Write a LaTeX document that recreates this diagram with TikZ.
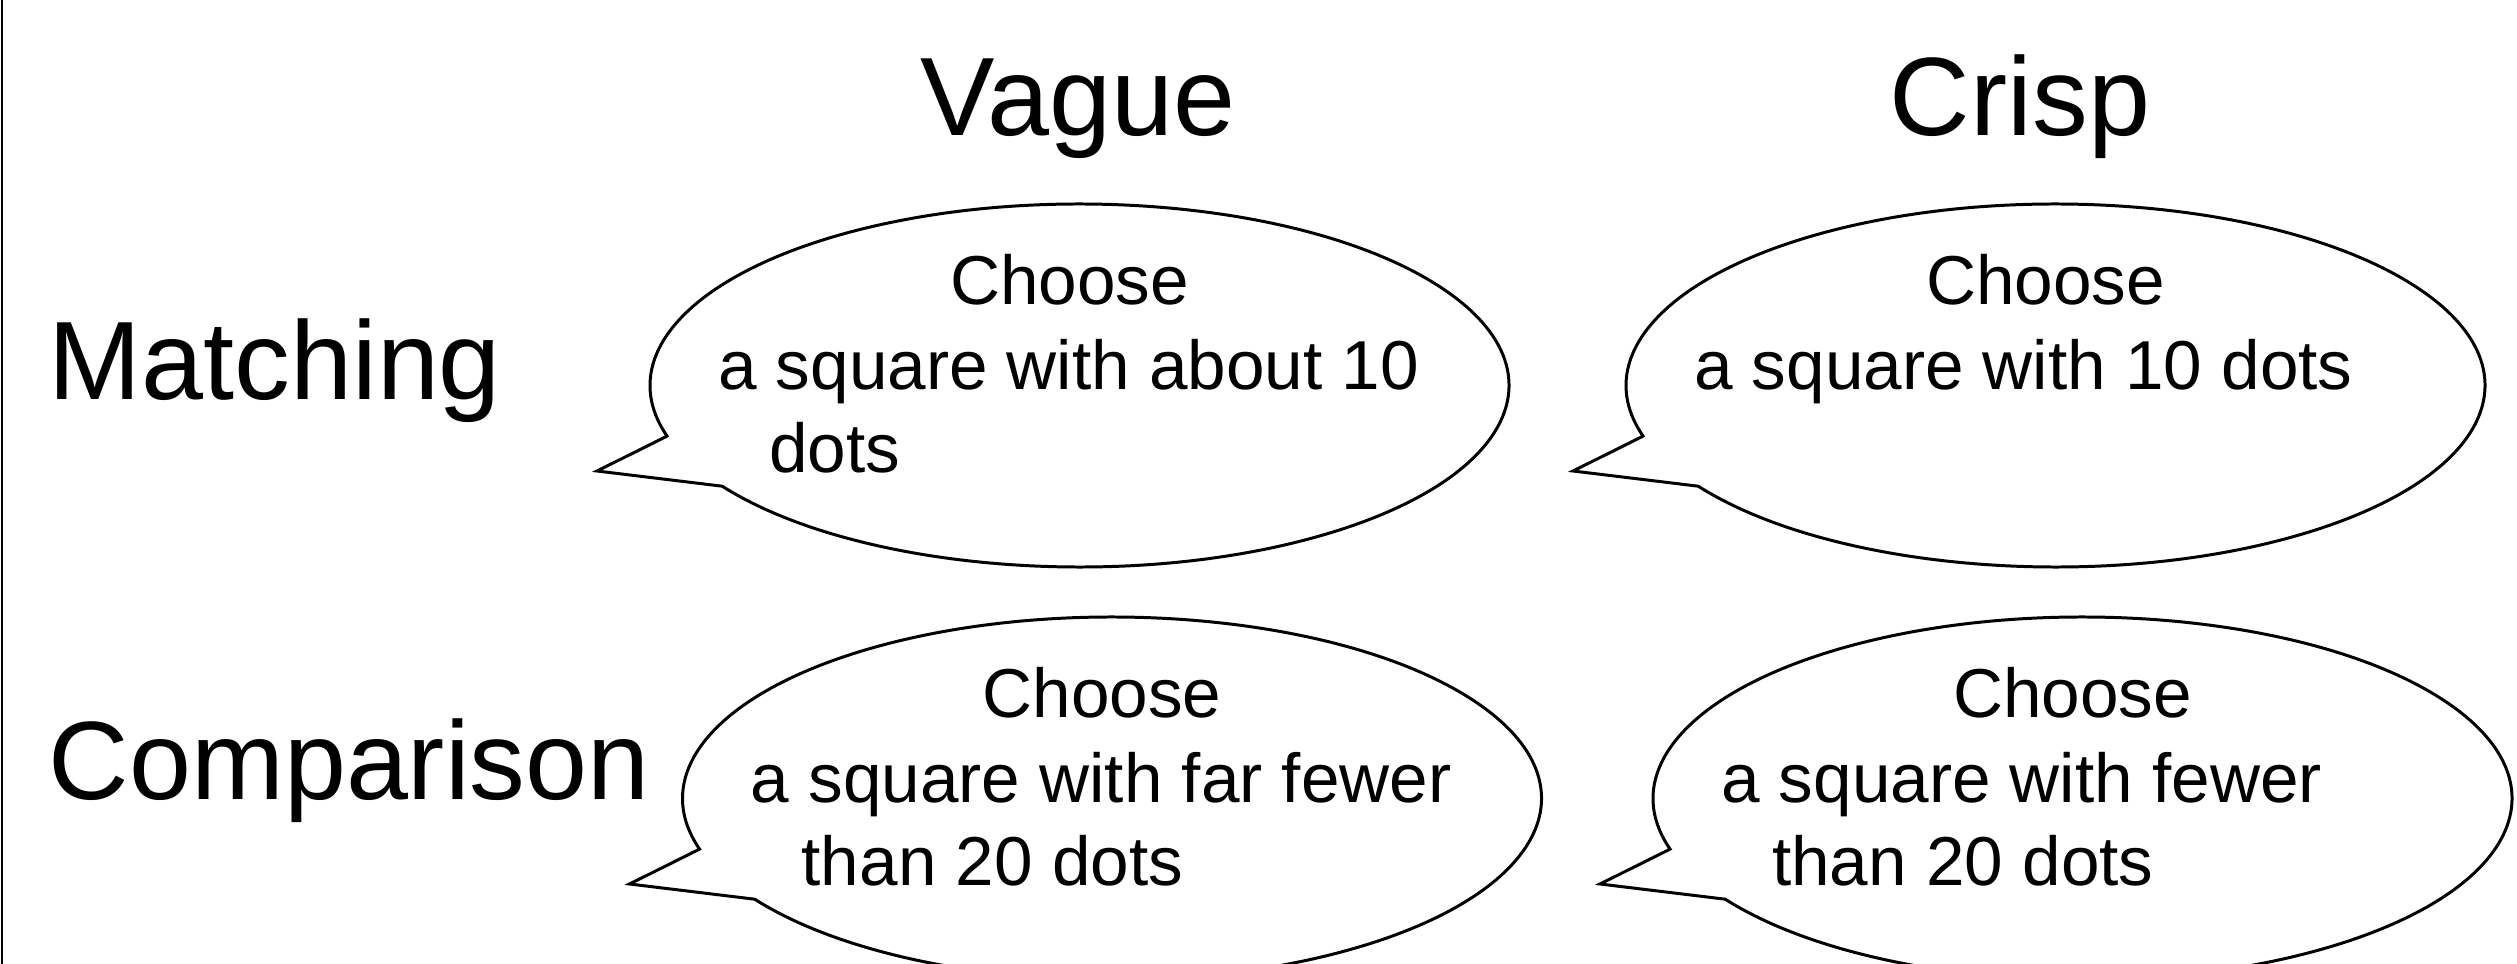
\documentclass[tikz,border=0pt]{standalone}
\usepackage{fontspec}
\setmainfont{Liberation Sans}
\begin{document}
\begin{tikzpicture}[x=0.01cm,y=-0.01cm,
  bubbleline/.style={draw=black, line width=0.85pt, line join=miter},
  heading/.style={font=\fontsize{31.7}{38}\selectfont, inner sep=0pt},
  says/.style={font=\fontsize{19.7}{23.8}\selectfont, inner sep=0pt},
  % speech bubble: ellipse outline opened on the lower left for a pointed tail
  bubble/.pic={
    \draw[bubbleline] (-357.3,100.7)
      arc[start angle=146.3, end angle=-196.2, x radius=429.5, y radius=181.5]
      -- (-482.5,85.5) -- cycle;
  }]
\useasboundingbox (0,0) rectangle (2517,964);
\clip (0,0) rectangle (2517,964);

% frame edge on the left
\draw[line width=0.6pt] (2,0) -- (2,964);

% column and row headings
\node[heading, anchor=base] (vague) at (1078,136) {Vague};
\node[heading, anchor=base] (crisp) at (2020,136) {Crisp};
\node[heading, anchor=base west] (matching) at (48,400) {Matching};
\node[heading, anchor=base west] (comparison) at (48,800) {Comparison};

% bubble centres
\coordinate (b1) at (1079.5,385.5);
\coordinate (b2) at (2055.5,385.5);
\coordinate (b3) at (1112,798.5);
\coordinate (b4) at (2082.5,798.5);

\pic at (b1) {bubble};
\pic at (b2) {bubble};
\pic at (b3) {bubble};
\pic at (b4) {bubble};

% matching, vague
\node[says, anchor=base] (b1a) at ([shift={(-10,-80.5)}]b1) {Choose};
\node[says, anchor=base west] (b1b) at ([shift={(-362,4.5)}]b1) {a square with about 10};
\node[says, anchor=base west] (b1c) at ([shift={(-311,87.5)}]b1) {dots};

% matching, crisp
\node[says, anchor=base] (b2a) at ([shift={(-10,-80.5)}]b2) {Choose};
\node[says, anchor=base west] (b2b) at ([shift={(-362,4.5)}]b2) {a square with 10 dots};

% comparison, vague
\node[says, anchor=base] (b3a) at ([shift={(-10,-80.5)}]b3) {Choose};
\node[says, anchor=base west] (b3b) at ([shift={(-362,4.5)}]b3) {a square with far fewer};
\node[says, anchor=base west] (b3c) at ([shift={(-311,87.5)}]b3) {than 20 dots};

% comparison, crisp
\node[says, anchor=base] (b4a) at ([shift={(-10,-80.5)}]b4) {Choose};
\node[says, anchor=base west] (b4b) at ([shift={(-362,4.5)}]b4) {a square with fewer};
\node[says, anchor=base west] (b4c) at ([shift={(-311,87.5)}]b4) {than 20 dots};
\end{tikzpicture}
\end{document}
